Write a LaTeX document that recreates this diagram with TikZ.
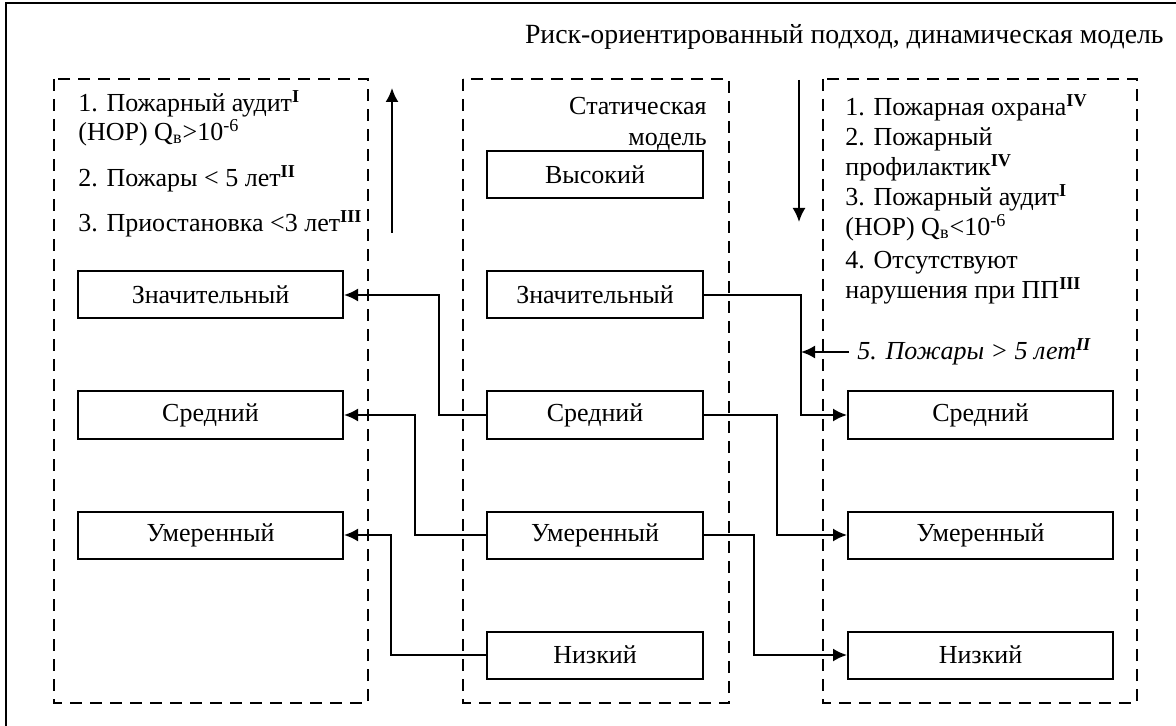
\documentclass[tikz,border=0pt]{standalone}
\usepackage{fontspec}
\setmainfont{Liberation Serif}
\usetikzlibrary{arrows.meta}
\newcommand\diagfont{\fontsize{13}{12}\selectfont\lineskiplimit=-8pt\relax}

\begin{document}
\begin{tikzpicture}[x=0.5pt, y=-0.5pt, font=\diagfont,
  lvl/.style={draw, line width=1pt, minimum width=132.5pt, minimum height=23.5pt, inner sep=0pt},
  mlvl/.style={lvl, minimum width=108pt},
  zone/.style={draw, line width=0.9pt, dash pattern=on 6pt off 4pt},
  link/.style={line width=1pt, -{Latex[length=7pt,width=6.5pt]}},
  note/.style={inner sep=0pt}]
  \useasboundingbox (0,0) rectangle (1176,726);
  % outer frame (cut at right and bottom)
  \draw[line width=1pt] (6,726) -- (6,3) -- (1176,3);
  \node[note, anchor=east, font=\fontsize{13.9}{12}\selectfont] (title) at (1164,37) {Риск-ориентированный подход, динамическая модель};

  % three zones
  \draw[zone] (54,79) rectangle (368,703);
  \draw[zone] (463,79) rectangle (729,703);
  \draw[zone] (823,79) rectangle (1137,703);

  % static model
  \node[note, anchor=north east, align=right] (mnote) at (707,97) {Статическая\\[3.5pt]модель};
  \node[mlvl] (mv) at (595,174.5) {Высокий};
  \node[mlvl] (mz) at (595,295) {Значительный};
  \node[mlvl] (ms) at (595,415) {Средний};
  \node[mlvl] (mu) at (595,535) {Умеренный};
  \node[mlvl] (mn) at (595,655) {Низкий};

  % raised level
  \node[note, anchor=north west, align=left] (lnote) at (78,90)
    {1. Пожарный аудит\textsuperscript{\textbf{I}}\\[2.5pt]
     (НОР) Q\textsubscript{в}>10\textsuperscript{-6}\\[11pt]
     2. Пожары < 5 лет\textsuperscript{\textbf{II}}\\[10.5pt]
     3. Приостановка <3 лет\textsuperscript{\textbf{III}}};
  \node[lvl] (lz) at (210.5,295) {Значительный};
  \node[lvl] (ls) at (210.5,415) {Средний};
  \node[lvl] (lu) at (210.5,535) {Умеренный};

  % lowered level
  \node[note, anchor=north west, align=left] (rnote) at (845,94)
    {1. Пожарная охрана\textsuperscript{\textbf{IV}}\\[3pt]
     2. Пожарный\\[3pt]
     профилактик\textsuperscript{\textbf{IV}}\\[3pt]
     3. Пожарный аудит\textsuperscript{\textbf{I}}\\[3pt]
     (НОР) Q\textsubscript{в}<10\textsuperscript{-6}\\[4.5pt]
     4. Отсутствуют\\[3pt]
     нарушения при ПП\textsuperscript{\textbf{III}}};
  \node[note, anchor=west, font=\diagfont\itshape] (fires) at (857,352)
    {5. Пожары > 5 лет\textsuperscript{\textbf{II}}};
  \node[lvl] (rs) at (980.5,415) {Средний};
  \node[lvl] (ru) at (980.5,535) {Умеренный};
  \node[lvl] (rn) at (980.5,655) {Низкий};

  % up and down
  \coordinate (upfrom) at (392,233);
  \coordinate (upto) at (392,88);
  \coordinate (downfrom) at (799,80);
  \coordinate (downto) at (799,222);
  \draw[link] (upfrom) -- (upto);
  \draw[link] (downfrom) -- (downto);

  % links
  \draw[link] (ms.west) -- ++(-47,0) |- (lz.east);
  \draw[link] (mu.west) -- ++(-71,0) |- (ls.east);
  \draw[link] (mn.west) -- ++(-95,0) |- (lu.east);
  \draw[link] (mz.east) -- ++(97,0) coordinate (zr) |- (rs.west);
  \draw[link] (ms.east) -- ++(73,0) |- (ru.west);
  \draw[link] (mu.east) -- ++(50,0) |- (rn.west);
  \draw[link] ([xshift=-4pt]fires.west) -- (fires.west -| zr);
\end{tikzpicture}
\end{document}
